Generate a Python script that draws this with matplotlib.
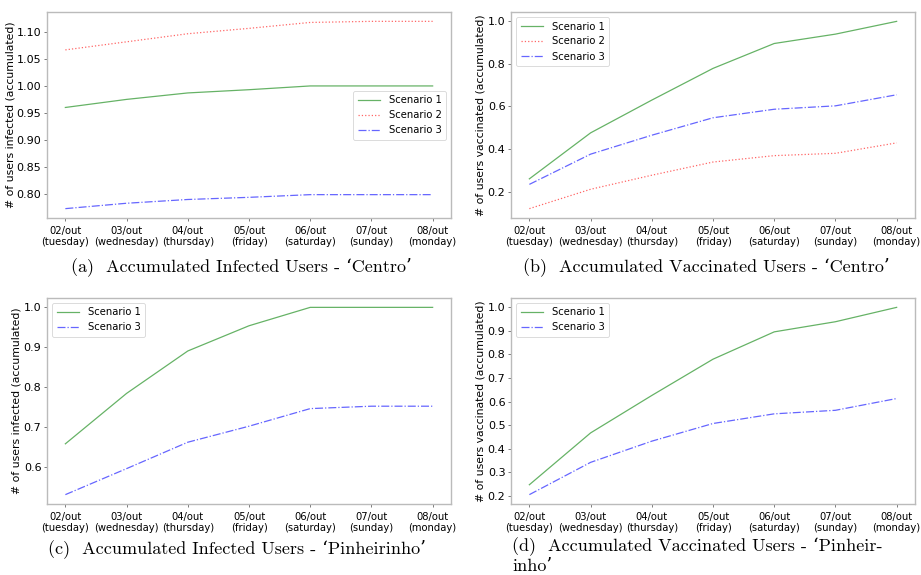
import matplotlib
matplotlib.use("Agg")
import matplotlib.pyplot as plt

days = ["02/out\n(tuesday)", "03/out\n(wednesday)", "04/out\n(thursday)", "05/out\n(friday)",
        "06/out\n(saturday)", "07/out\n(sunday)", "08/out\n(monday)"]

# (a) infected - Centro
a_s1 = [0.960, 0.975, 0.987, 0.993, 1.000, 1.000, 1.000]
a_s2 = [1.067, 1.082, 1.097, 1.107, 1.118, 1.120, 1.120]
a_s3 = [0.772, 0.782, 0.789, 0.793, 0.798, 0.798, 0.798]
# (b) vaccinated - Centro
b_s1 = [0.260, 0.476, 0.630, 0.779, 0.896, 0.940, 1.000]
b_s2 = [0.120, 0.211, 0.277, 0.339, 0.369, 0.380, 0.429]
b_s3 = [0.234, 0.376, 0.465, 0.547, 0.587, 0.603, 0.655]
# (c) infected - Pinheirinho
c_s1 = [0.659, 0.785, 0.891, 0.954, 1.000, 1.000, 1.000]
c_s3 = [0.532, 0.597, 0.663, 0.703, 0.747, 0.753, 0.753]
# (d) vaccinated - Pinheirinho
d_s1 = [0.247, 0.467, 0.626, 0.780, 0.896, 0.939, 1.000]
d_s3 = [0.205, 0.342, 0.432, 0.507, 0.548, 0.563, 0.613]

captions = ["(a)  Accumulated Infected Users - \u2018Centro\u2019",
            "(b)  Accumulated Vaccinated Users - \u2018Centro\u2019",
            "(c)  Accumulated Infected Users - \u2018Pinheirinho\u2019",
            "(d)  Accumulated Vaccinated Users - \u2018Pinheir-",
            "inho\u2019"]

W, H = 921, 575
fig = plt.figure(figsize=(W / 100, H / 100), dpi=100)
plt.rcParams['font.family'] = ['DejaVu Sans']

def px_axes(l, t, r, b):
    return fig.add_axes([l / W, 1 - b / H, (r - l) / W, (b - t) / H])

styles = {
    1: dict(color="green", ls="-", alpha=0.6, lw=0.9, label="Scenario 1"),
    2: dict(color="red", ls=":", alpha=0.6, lw=0.9, label="Scenario 2"),
    3: dict(color="blue", ls="-.", alpha=0.6, lw=0.9, label="Scenario 3"),
}

def panel(ax, series, ylabel, legend_loc, label_x):
    x = list(range(len(days)))
    for k, vals in series:
        ax.plot(x, vals, **styles[k])
    ax.set_xticks(x)
    ax.set_xticklabels(days, fontsize=7.2)
    ax.tick_params(axis="y", labelsize=8, pad=2)
    ax.tick_params(colors="#666666", labelcolor="black", length=2, width=0.6)
    for s in ax.spines.values():
        s.set_color("#bbbbbb")
        s.set_linewidth(1.0)
    ax.set_ylabel(ylabel, fontsize=7.8)
    ax.yaxis.set_label_coords(label_x, 0.5)
    leg = ax.legend(loc=legend_loc, fontsize=7.2, handlelength=2.2, handletextpad=0.9,
                    borderpad=0.45, labelspacing=0.5)
    leg.get_frame().set_linewidth(0.6)

ax_a = px_axes(47, 12, 451, 218)
panel(ax_a, [(1, a_s1), (2, a_s2), (3, a_s3)], "# of users infected (accumulated)", "center right", -0.079)
ax_b = px_axes(511, 12, 915, 218)
panel(ax_b, [(1, b_s1), (2, b_s2), (3, b_s3)], "# of users vaccinated (accumulated)", "upper left", -0.064)
ax_c = px_axes(47, 298, 451, 504)
panel(ax_c, [(1, c_s1), (3, c_s3)], "# of users infected (accumulated)", "upper left", -0.064)
ax_d = px_axes(511, 298, 915, 504)
panel(ax_d, [(1, d_s1), (3, d_s3)], "# of users vaccinated (accumulated)", "upper left", -0.064)

cap_font = dict(family=["cmr10", "DejaVu Serif"], fontsize=13)
fig.text(241 / W, 1 - 267 / H, captions[0], ha="center", va="center", **cap_font)
fig.text(706 / W, 1 - 267 / H, captions[1], ha="center", va="center", **cap_font)
fig.text(237 / W, 1 - 549 / H, captions[2], ha="center", va="center", **cap_font)
fig.text(512 / W, 1 - 547 / H, captions[3], ha="left", va="center", **cap_font)
fig.text(512 / W, 1 - 566 / H, captions[4], ha="left", va="center", **cap_font)

fig.savefig("out.png", dpi=100)
